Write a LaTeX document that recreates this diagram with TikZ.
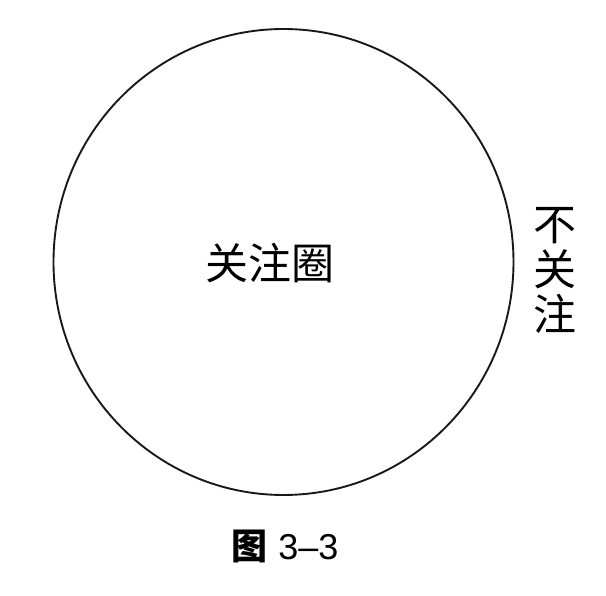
\documentclass[tikz,border=0pt]{standalone}
\usepackage{fontspec}
\usetikzlibrary{shapes.geometric}
\newfontfamily\cjk{Noto Sans CJK SC}
\setsansfont{Liberation Sans}
\begin{document}
\begin{tikzpicture}[x=1pt,y=-1pt,
  ring/.style={draw=black!90, line width=1.9pt, ellipse, inner sep=0pt, minimum width=460pt, minimum height=466pt},
  lbl/.style={inner sep=0pt, font=\cjk\fontsize{43}{46}\selectfont},
  captext/.style={inner sep=0pt, font=\fontsize{36}{40}\selectfont}]
\useasboundingbox (0,0) rectangle (606,596);
\fill[white] (0,0) rectangle (606,596);
\node[ring] (c) at (283.5,262) {};
\node[lbl] (in) at (270,263) {关注圈};
\node[lbl, align=center, font=\cjk\fontsize{43}{45}\selectfont] (out) at (555,270) {不\\关\\注};
\node[captext] (caption) at (285,546) {{\cjk\bfseries 图}\hspace{0.3em}{\sffamily 3–3}};
\end{tikzpicture}
\end{document}
